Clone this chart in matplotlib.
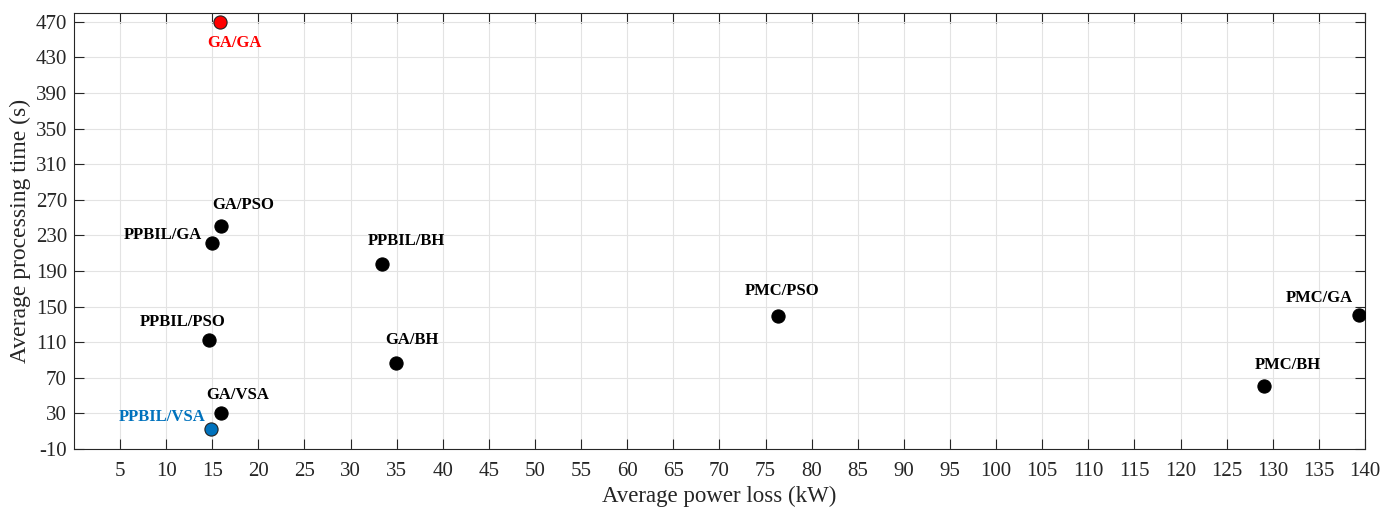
import matplotlib
matplotlib.use("Agg")
import matplotlib.pyplot as plt
import numpy as np

# Data
methods = ["GA/GA", "GA/PSO", "PPBIL/GA", "PPBIL/BH", "PPBIL/PSO", "GA/BH",
           "GA/VSA", "PPBIL/VSA", "PMC/PSO", "PMC/GA", "PMC/BH"]
power_loss = [15.8, 16.0, 15.0, 33.4, 14.7, 34.9, 15.9, 14.9, 76.3, 139.4, 129.0]
proc_time = [470, 241, 221, 198, 112, 87, 30, 13, 140, 141, 61]

# label anchor positions (data coords)
label_x = [17.4, 18.4, 9.6, 36.1, 11.8, 36.7, 17.8, 9.6, 76.8, 135.1, 131.6]
label_y = [446, 264, 231, 224, 133, 113, 51, 26, 168, 160, 84]

colors = {"GA/GA": "#ff0000", "PPBIL/VSA": "#0072bd"}

plt.rcParams['font.family'] = ['Liberation Serif', 'DejaVu Serif']
plt.rcParams['axes.unicode_minus'] = False

fig = plt.figure(figsize=(13.95, 5.11), dpi=100)
ax = fig.add_axes([0.053, 0.1213, 0.9255, 0.8533])

for m, x, y, lx, ly in zip(methods, power_loss, proc_time, label_x, label_y):
    c = colors.get(m, "black")
    ax.scatter(x, y, s=90, color=c, edgecolor="#222222" if m in colors else "black",
               linewidth=0.8, zorder=3)
    ax.text(lx, ly, m, color=c, fontsize=12, fontweight="bold",
            ha="center", va="center")

ax.set_xlim(0, 140)
ax.set_ylim(-10, 480)
ax.set_xticks(np.arange(5, 141, 5))
ax.set_yticks(np.arange(-10, 471, 40))
ax.grid(True, color="#e3e3e3", linewidth=0.8)
ax.set_axisbelow(True)
ax.tick_params(direction="in", top=True, right=True, labelsize=15,
               colors="#262626", length=7)
ax.tick_params(axis="x", pad=9)
ax.tick_params(axis="y", pad=5)
for s in ax.spines.values():
    s.set_color("#262626")
ax.set_xlabel("Average power loss (kW)", fontsize=16.5, color="#262626", labelpad=4)
ax.set_ylabel("Average processing time (s)", fontsize=17, color="#262626", labelpad=3)

fig.savefig("out.png", dpi=100)
